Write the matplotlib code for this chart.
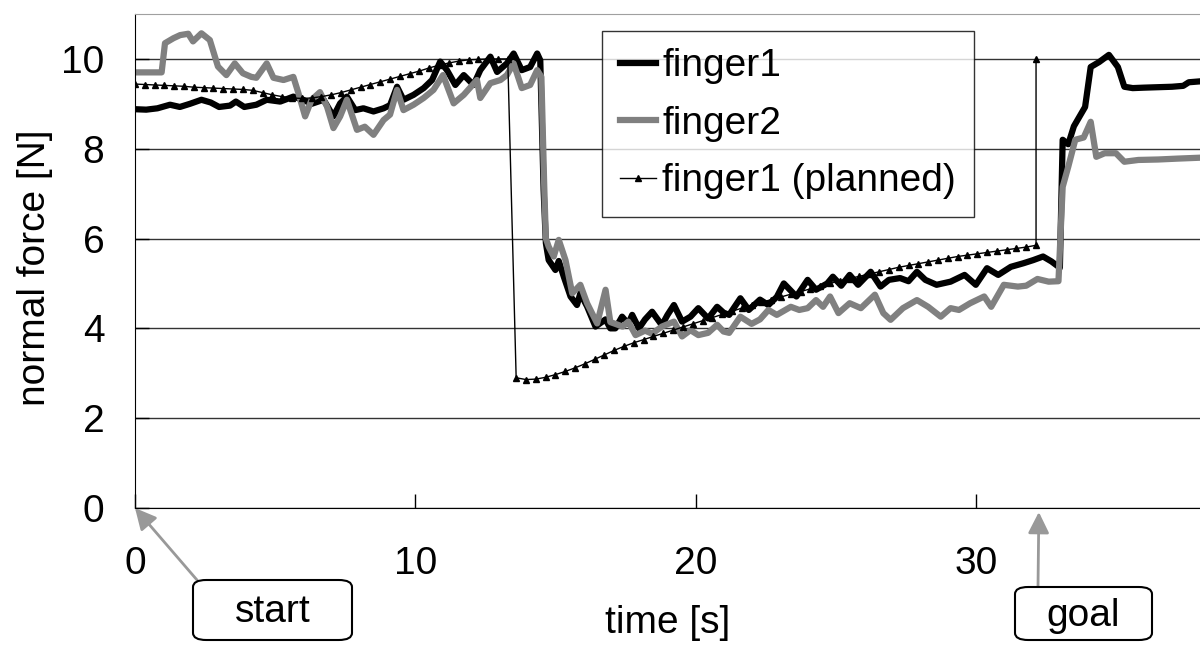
import matplotlib
matplotlib.use('Agg')
import matplotlib.pyplot as plt
from matplotlib.patches import FancyBboxPatch

plt.rcParams['font.family'] = ['Liberation Sans', 'DejaVu Sans']

# measured normal force of finger1 (time [s], force [N])
f1_t = [0, 0.4, 0.8, 1.25, 1.6, 1.96, 2.37, 2.7, 3.0, 3.39,
        3.6, 3.9, 4.33, 4.7, 5.18, 5.65, 6.0, 6.3, 6.73, 7.08,
        7.32, 7.56, 7.86, 8.15, 8.51, 8.87, 9.1, 9.35, 9.58, 9.94,
        10.3, 10.6, 10.89, 11.13, 11.43, 11.73, 12.08, 12.32, 12.68, 12.92,
        13.27, 13.51, 13.8, 14.1, 14.35, 14.46, 14.58, 14.66, 14.76, 15.0,
        15.12, 15.3, 15.54, 15.77, 15.89, 16.13, 16.43, 16.79, 16.96, 17.14,
        17.38, 17.6, 17.74, 17.98, 18.2, 18.45, 18.8, 19.0, 19.23, 19.52,
        19.82, 20.1, 20.45, 20.77, 21.0, 21.2, 21.6, 21.9, 22.3, 22.6,
        22.9, 23.15, 23.6, 24.0, 24.3, 24.7, 24.9, 25.2, 25.5, 25.8,
        26.25, 26.6, 26.9, 27.3, 27.6, 27.9, 28.2, 28.6, 29.1, 29.6,
        30.0, 30.4, 30.8, 31.25, 31.7, 32.05, 32.4, 32.7, 33.0, 33.1,
        33.3, 33.5, 33.9, 34.1, 34.4, 34.75, 35.07, 35.3, 35.6, 36.0,
        36.5, 37.0, 37.4, 37.6, 38.0]
f1_v = [8.88, 8.87, 8.9, 8.98, 8.93, 9.0, 9.09, 9.03, 8.93, 8.96,
        9.05, 8.93, 8.98, 9.09, 9.05, 9.16, 9.09, 9.0, 9.09, 8.72,
        9.01, 9.16, 8.86, 8.9, 8.83, 8.9, 8.97, 9.38, 9.09, 9.2,
        9.35, 9.53, 9.94, 9.75, 9.42, 9.64, 9.42, 9.75, 10.05, 9.71,
        9.9, 10.12, 9.75, 9.82, 10.12, 9.97, 7.08, 5.9, 5.52, 5.3,
        5.5, 5.15, 4.71, 4.52, 4.78, 4.49, 4.04, 4.2, 4.0, 4.0,
        4.26, 4.1, 4.3, 4.0, 4.2, 4.37, 4.07, 4.3, 4.52, 4.15,
        4.26, 4.45, 4.22, 4.48, 4.35, 4.3, 4.67, 4.41, 4.64, 4.52,
        4.7, 5.0, 4.71, 5.08, 4.86, 5.0, 5.15, 4.95, 5.19, 4.97,
        5.26, 4.93, 5.08, 5.12, 5.05, 5.26, 5.08, 4.97, 5.04, 5.19,
        4.97, 5.34, 5.19, 5.37, 5.45, 5.52, 5.6, 5.49, 5.35, 8.2,
        8.1, 8.5, 8.93, 9.82, 9.93, 10.09, 9.82, 9.38, 9.35, 9.36,
        9.37, 9.38, 9.4, 9.48, 9.5]

# measured normal force of finger2
f2_t = [0, 0.95, 1.07, 1.37, 1.61, 1.9, 2.07, 2.37, 2.67, 2.96,
        3.26, 3.56, 3.85, 4.15, 4.33, 4.7, 4.94, 5.3, 5.65, 5.83,
        6.07, 6.3, 6.6, 6.85, 7.08, 7.32, 7.56, 7.92, 8.2, 8.51,
        8.87, 9.1, 9.35, 9.58, 9.94, 10.3, 10.65, 10.99, 11.37, 11.73,
        12.2, 12.32, 12.68, 13.04, 13.27, 13.51, 13.8, 14.1, 14.35, 14.5,
        14.6, 14.66, 14.76, 14.94, 15.12, 15.36, 15.6, 15.89, 16.13, 16.49,
        16.79, 16.96, 17.14, 17.4, 17.6, 17.86, 18.2, 18.45, 18.8, 19.23,
        19.52, 19.82, 20.1, 20.45, 20.77, 21.0, 21.2, 21.6, 22.0, 22.3,
        22.6, 22.9, 23.4, 23.7, 24.0, 24.3, 24.55, 24.8, 25.1, 25.5,
        25.9, 26.4, 26.7, 26.96, 27.4, 27.9, 28.3, 28.75, 29.1, 29.4,
        29.8, 30.3, 30.55, 31.0, 31.5, 31.8, 32.2, 32.6, 32.95, 33.1,
        33.3, 33.55, 33.85, 34.1, 34.3, 34.6, 35.0, 35.3, 35.8, 36.5,
        37.2, 38.0]
f2_v = [9.7, 9.7, 10.35, 10.46, 10.53, 10.56, 10.39, 10.57, 10.42, 9.83,
        9.64, 9.9, 9.68, 9.6, 9.58, 9.9, 9.58, 9.53, 9.6, 9.24,
        8.72, 9.09, 9.26, 8.94, 8.46, 8.72, 9.09, 8.42, 8.49, 8.31,
        8.64, 8.76, 9.31, 8.86, 8.98, 9.13, 9.31, 9.64, 9.01, 9.2,
        9.53, 9.13, 9.46, 9.53, 9.64, 9.9, 9.35, 9.42, 9.75, 9.6,
        7.2, 6.0, 5.82, 5.6, 5.97, 5.52, 4.78, 4.97, 4.56, 4.11,
        4.86, 4.14, 4.1, 4.04, 4.15, 3.85, 3.95, 3.88, 4.04, 4.15,
        3.82, 3.96, 3.85, 3.9, 4.08, 3.93, 3.9, 4.26, 4.1, 4.2,
        4.41, 4.3, 4.48, 4.41, 4.45, 4.63, 4.48, 4.71, 4.34, 4.56,
        4.45, 4.75, 4.34, 4.19, 4.45, 4.63, 4.48, 4.26, 4.45, 4.41,
        4.56, 4.71, 4.48, 4.97, 4.93, 4.95, 5.1, 5.04, 5.05, 7.15,
        7.6, 8.2, 8.25, 8.6, 7.82, 7.9, 7.9, 7.71, 7.75, 7.76,
        7.78, 7.8]

# planned force for finger1 (two phases, one polyline)
plan1_t = [0, 0.35, 0.7, 1.05, 1.4, 1.75, 2.1, 2.45, 2.8, 3.15,
           3.5, 3.85, 4.2, 4.55, 4.9, 5.25, 5.6, 5.95, 6.3, 6.65,
           7.0, 7.35, 7.7, 8.05, 8.4, 8.75, 9.1, 9.45, 9.8, 10.15,
           10.5, 10.85, 11.2, 11.55, 11.9, 12.25, 12.6, 12.95, 13.3]
plan1_v = [9.44, 9.43, 9.42, 9.41, 9.40, 9.39, 9.37, 9.36, 9.35, 9.34,
           9.33, 9.32, 9.30, 9.25, 9.20, 9.16, 9.13, 9.12, 9.13, 9.16,
           9.20, 9.25, 9.31, 9.37, 9.43, 9.49, 9.55, 9.61, 9.67, 9.73,
           9.80, 9.86, 9.91, 9.95, 9.98, 9.99, 10.0, 10.0, 10.0]
plan2_t = [13.6, 13.95, 14.3, 14.65, 15.0, 15.35, 15.7, 16.05, 16.4, 16.75,
           17.1, 17.45, 17.8, 18.15, 18.5, 18.85, 19.2, 19.55, 19.9, 20.25,
           20.6, 20.95, 21.3, 21.65, 22.0, 22.35, 22.7, 23.05, 23.4, 23.75,
           24.1, 24.45, 24.8, 25.15, 25.5, 25.85, 26.2, 26.55, 26.9, 27.25,
           27.6, 27.95, 28.3, 28.65, 29.0, 29.35, 29.7, 30.05, 30.4, 30.75,
           31.1, 31.45, 31.8, 32.15, 32.15]
plan2_v = [2.90, 2.86, 2.87, 2.91, 2.97, 3.04, 3.12, 3.21, 3.31, 3.41,
           3.51, 3.60, 3.68, 3.75, 3.82, 3.89, 3.96, 4.03, 4.10, 4.17,
           4.24, 4.31, 4.38, 4.45, 4.52, 4.58, 4.64, 4.70, 4.76, 4.82,
           4.88, 4.94, 5.00, 5.06, 5.11, 5.16, 5.21, 5.26, 5.31, 5.36,
           5.40, 5.44, 5.48, 5.52, 5.56, 5.60, 5.63, 5.66, 5.69, 5.72,
           5.75, 5.78, 5.81, 5.85, 10.0]

start_t = 0.0
goal_t = 32.25

fs = 28

fig = plt.figure(figsize=(12, 6.46), dpi=100)
ax = fig.add_axes([135/1200, 138/646, 1065/1200, 494/646])

ax.plot(f1_t, f1_v, color='black', lw=4.5, solid_joinstyle='round', label='finger1')
ax.plot(f2_t, f2_v, color='#808080', lw=4.5, solid_joinstyle='round', label='finger2')
ax.plot(plan1_t + plan2_t, plan1_v + plan2_v, color='black', lw=1,
        marker='^', markersize=5, label='finger1 (planned)')

ax.set_xlim(0, 38)
ax.set_ylim(0, 11)
ax.set_xticks([0, 10, 20, 30])
ax.set_yticks([0, 2, 4, 6, 8, 10])
ax.yaxis.grid(True, color='#333333', lw=1)
ax.set_axisbelow(True)
ax.tick_params(axis='both', direction='in', length=10, width=1, labelsize=fs)
ax.tick_params(axis='x', pad=27)
ax.tick_params(axis='y', pad=22)
ax.spines['right'].set_visible(False)
ax.spines['top'].set_color('#a0a0a0')

fig.text(668/1200, 1 - 623/646, 'time [s]', fontsize=fs, ha='center', va='center')
fig.text(35/1200, 1 - 268/646, 'normal force [N]', fontsize=fs, ha='center',
         va='center', rotation=90)

leg = ax.legend(loc='upper left', bbox_to_anchor=((602 - 135)/1065, (508 - 31)/494),
                fontsize=fs, frameon=True, fancybox=False, handlelength=0.95,
                handletextpad=0.15, labelspacing=0.55, borderpad=0.45,
                borderaxespad=0)
leg.get_frame().set_edgecolor('black')
leg.get_frame().set_linewidth(1)

# annotation boxes for start and goal
for (x0, y0, w, h, txt) in [(193, 580, 159, 60, 'start'), (1015, 587, 137, 53, 'goal')]:
    box = FancyBboxPatch((x0/1200, 1 - (y0 + h)/646), w/1200, h/646,
                         boxstyle='round,pad=0,rounding_size=0.011',
                         transform=fig.transFigure, facecolor='white',
                         edgecolor='black', lw=1.5)
    fig.patches.append(box)
    fig.text((x0 + w/2)/1200, 1 - (y0 + h/2 + 2)/646, txt, fontsize=fs,
             ha='center', va='center')

arrow = dict(arrowstyle='-|>', color='#999999', lw=2, mutation_scale=32,
             shrinkA=0, shrinkB=0)
ax.annotate('', xy=(start_t, 0), xycoords='data',
            xytext=(197/1200, 1 - 580/646), textcoords='figure fraction',
            arrowprops=arrow, annotation_clip=False)
ax.annotate('', xy=(goal_t, -0.09), xycoords='data',
            xytext=(1038/1200, 1 - 587/646), textcoords='figure fraction',
            arrowprops=arrow, annotation_clip=False)

plt.savefig('out.png', dpi=100)
